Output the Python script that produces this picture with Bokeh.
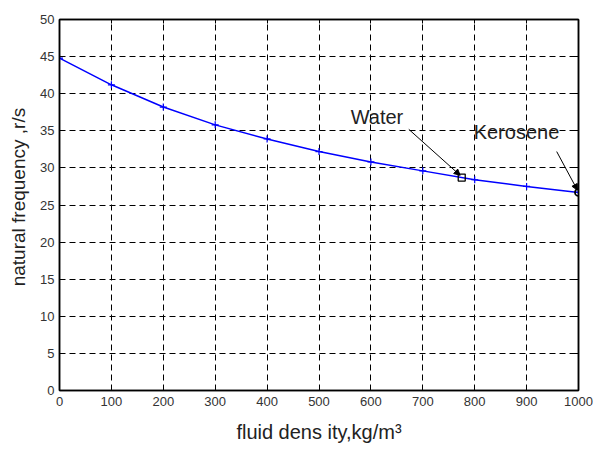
from bokeh.plotting import figure
from bokeh.models import Range1d, LinearAxis, Arrow, NormalHead, Label, FixedTicker
from bokeh.embed import file_html
from bokeh.resources import INLINE

# data
density = [0, 100, 200, 300, 400, 500, 600, 700, 800, 900, 1000]
frequency = [44.8, 41.2, 38.2, 35.8, 33.9, 32.2, 30.8, 29.6, 28.4, 27.5, 26.7]
water = (775, 28.7)
kerosene = (1000, 26.7)
water_label = (561, 35.4)
kerosene_label = (798, 33.3)
water_arrow_start = (673, 35.2)
kerosene_arrow_start = (958, 32.2)
x_ticks = list(range(0, 1001, 100))
y_ticks = list(range(0, 51, 5))

FONT = "Liberation Sans"

p = figure(width=593, height=457, output_backend="svg", toolbar_location=None,
           x_range=Range1d(0, 1000), y_range=Range1d(0, 50),
           min_border_left=59, min_border_right=15, min_border_top=19, min_border_bottom=67)
p.background_fill_color = "white"
p.border_fill_color = "white"
p.outline_line_color = "black"
p.outline_line_width = 1.5

for ax in (p.xaxis[0], p.yaxis[0]):
    ax.axis_line_color = "black"
    ax.axis_line_width = 1.5
    ax.major_tick_in = 4
    ax.major_tick_out = 0
    ax.minor_tick_line_color = None
    ax.major_label_text_font = FONT
    ax.major_label_text_font_size = "13px"
    ax.major_label_text_color = "#333333"
    ax.axis_label_text_font = FONT
    ax.axis_label_text_font_style = "normal"
    ax.axis_label_text_color = "#222222"

p.xaxis[0].ticker = FixedTicker(ticks=x_ticks)
p.yaxis[0].ticker = FixedTicker(ticks=y_ticks)
p.xaxis[0].axis_label = "fluid dens ity,kg/m³"
p.xaxis[0].axis_label_text_font_size = "20px"
p.yaxis[0].axis_label = "\u00a0" * 3 + "natural frequency ,r/s"
p.yaxis[0].axis_label_text_font_size = "19px"
p.xaxis[0].major_label_standoff = 6
p.yaxis[0].major_label_standoff = 5
p.xaxis[0].axis_label_standoff = 12
p.yaxis[0].axis_label_standoff = 8

# inside ticks on top/right
for loc, tk in (("right", y_ticks), ("above", x_ticks)):
    a = LinearAxis(ticker=FixedTicker(ticks=tk), major_label_text_font_size="0px",
                   major_tick_in=4, major_tick_out=0, minor_tick_line_color=None,
                   axis_line_color="black", axis_line_width=1.5)
    a.major_label_text_alpha = 0
    p.add_layout(a, loc)

p.xgrid.ticker = FixedTicker(ticks=x_ticks)
p.ygrid.ticker = FixedTicker(ticks=y_ticks)
for g in (p.xgrid[0], p.ygrid[0]):
    g.grid_line_color = "black"
    g.grid_line_dash = "6 4"
    g.grid_line_width = 1

p.line(density, frequency, line_color="#0000ff", line_width=1.5)
p.scatter(density, frequency, marker="cross", size=7, line_color="#0000ff", line_width=1.2)

p.scatter([water[0]], [water[1]], marker="square", size=7, fill_color=None, line_color="black", line_width=1.3)
p.scatter([kerosene[0]], [kerosene[1]], marker="circle", size=7, fill_color=None, line_color="black", line_width=1.8)

for lab, txt in ((water_label, "Water"), (kerosene_label, "Kerosene")):
    p.add_layout(Label(x=lab[0], y=lab[1], text=txt, text_font=FONT, text_font_size="20px",
                       text_color="#222222", text_align="left", text_baseline="bottom"))

p.add_layout(Arrow(end=NormalHead(size=6, fill_color="black", line_color="black"),
                   x_start=water_arrow_start[0], y_start=water_arrow_start[1],
                   x_end=water[0] - 3, y_end=water[1] + 0.3,
                   line_color="black", line_width=1))
p.add_layout(Arrow(end=NormalHead(size=6, fill_color="black", line_color="black"),
                   x_start=kerosene_arrow_start[0], y_start=kerosene_arrow_start[1],
                   x_end=kerosene[0] - 2, y_end=kerosene[1] + 0.3,
                   line_color="black", line_width=1))

open("out.html", "w").write(file_html(p, INLINE))
